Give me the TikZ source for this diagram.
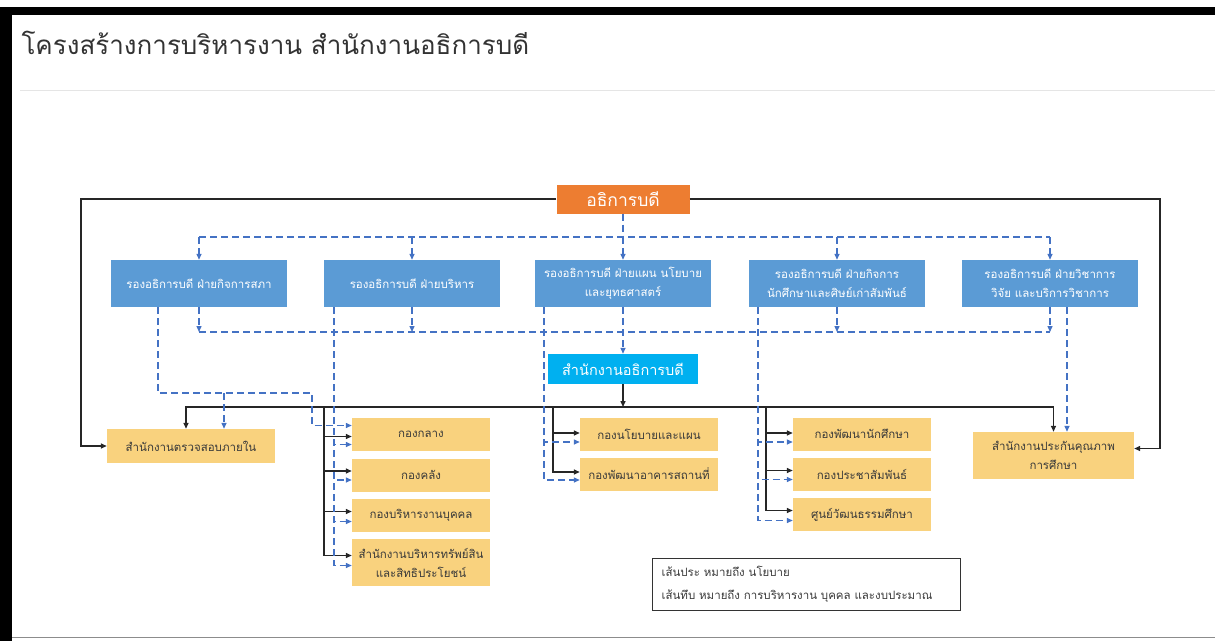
\documentclass[tikz,border=0pt]{standalone}
\usepackage{fontspec}
\setmainfont[Script=Thai]{Loma}
\usetikzlibrary{arrows.meta,positioning}
\definecolor{orgorange}{HTML}{ED7D31}
\definecolor{orgblue}{HTML}{5B9BD5}
\definecolor{orgcyan}{HTML}{00B0F0}
\definecolor{orgyellow}{HTML}{F9D27E}
\definecolor{orgdash}{HTML}{4472C4}
\definecolor{orgline}{HTML}{262626}
\definecolor{orgtext}{HTML}{3A3A3A}
\tikzset{
  >={Triangle[length=6pt,width=5pt]},
  topbox/.style={fill=orgorange,text=white,minimum width=133pt,minimum height=29pt,
                 inner sep=2pt,font=\fontsize{17.5}{20}\selectfont},
  vpbox/.style={fill=orgblue,text=white,minimum width=176pt,minimum height=47pt,
                inner sep=2pt,align=center,font=\fontsize{11.5}{19}\selectfont},
  officebox/.style={fill=orgcyan,text=white,minimum width=150pt,minimum height=30pt,
                    inner sep=2pt,font=\fontsize{14.5}{16}\selectfont},
  unitbox/.style={fill=orgyellow,text=orgtext,inner sep=2pt,align=center,
                  font=\fontsize{11.5}{19}\selectfont},
  colbox/.style={unitbox,minimum width=138pt,minimum height=33pt},
  blk/.style={draw=orgline,line width=1.4pt},
  dsh/.style={draw=orgdash,line width=1.3pt,dash pattern=on 7pt off 4pt},
}
\begin{document}
\begin{tikzpicture}[x=1pt,y=-1pt]
  \useasboundingbox (0,0) rectangle (1215,641);
  % page frame
  \fill[black] (0,7) rectangle (1215,15);
  \fill[black] (0,7) rectangle (12,641);
  \draw[black!10,line width=0.8pt] (20,90) -- (1215,90);
  \draw[black!45,line width=0.8pt] (12,637) -- (1215,637);
  \node[anchor=west,text=black!80,font=\fontsize{26}{30}\selectfont] (title) at (18,43)
    {โครงสร้างการบริหารงาน สำนักงานอธิการบดี};

  % boxes
  \node[topbox] (pres) at (623,199) {อธิการบดี};
  \node[vpbox] (vp1) at (199,283.5) {รองอธิการบดี ฝ่ายกิจการสภา};
  \node[vpbox] (vp2) at (412,283.5) {รองอธิการบดี ฝ่ายบริหาร};
  \node[vpbox] (vp3) at (623,283.5) {รองอธิการบดี ฝ่ายแผน นโยบาย\\และยุทธศาสตร์};
  \node[vpbox] (vp4) at (837,283.5) {รองอธิการบดี ฝ่ายกิจการ\\นักศึกษาและศิษย์เก่าสัมพันธ์};
  \node[vpbox] (vp5) at (1050,283.5) {รองอธิการบดี ฝ่ายวิชาการ\\วิจัย และบริการวิชาการ};
  \node[officebox] (office) at (623,369) {สำนักงานอธิการบดี};

  \node[unitbox,minimum width=168pt,minimum height=34pt] (audit) at (191,446) {สำนักงานตรวจสอบภายใน};
  \node[colbox] (a1) at (421,434.5) {กองกลาง};
  \node[colbox] (a2) at (421,475) {กองคลัง};
  \node[colbox] (a3) at (421,515.5) {กองบริหารงานบุคคล};
  \node[colbox,minimum height=47pt] (a4) at (421,562.5) {สำนักงานบริหารทรัพย์สิน\\และสิทธิประโยชน์};
  \node[colbox] (b1) at (649,434) {กองนโยบายและแผน};
  \node[colbox] (b2) at (649,474) {กองพัฒนาอาคารสถานที่};
  \node[colbox] (c1) at (862,434) {กองพัฒนานักศึกษา};
  \node[colbox] (c2) at (862,474.5) {กองประชาสัมพันธ์};
  \node[colbox] (c3) at (862,514.5) {ศูนย์วัฒนธรรมศึกษา};
  \node[unitbox,minimum width=161pt,minimum height=47pt] (qa) at (1053.5,455.5) {สำนักงานประกันคุณภาพ\\การศึกษา};

  \node[draw=black!80,line width=1.2pt,anchor=north west,text width=290pt,minimum height=52pt,
        inner xsep=9pt,align=left,text=orgtext,font=\fontsize{11.5}{23}\selectfont] (legend) at (652,558)
    {เส้นประ หมายถึง นโยบาย\\เส้นทึบ หมายถึง การบริหารงาน บุคคล และงบประมาณ};

  % junction points
  \coordinate (bus) at (623,407);
  \coordinate (farL) at (81,300);
  \coordinate (farR) at (1160,300);
  \coordinate (trA) at (324,407);
  \coordinate (trB) at (553,407);
  \coordinate (trC) at (766,407);
  \coordinate (dA) at (334,0);
  \coordinate (dB) at (544,0);
  \coordinate (dC) at (758,0);
  \coordinate (dQ) at (1067,0);
  \coordinate (pd) at (623,237);
  \coordinate (md) at (623,332);
  \coordinate (d1a) at (158,393);
  \coordinate (d1b) at (312,393);
  \coordinate (d1c) at (224,393);

  % solid lines: administration, staff, budget
  \draw[blk,->] (pres.west) -| (farL) |- (audit.west);
  \draw[blk,->] (pres.east) -| (farR) |- ([yshift=7pt]qa.east);
  \draw[blk,->] (office) -- (bus);
  \draw[blk,->] (bus) -| ([xshift=-5pt]audit.north);
  \draw[blk,->] (bus) -| (qa.north);
  \foreach \b/\s in {a1/-2,a2/4,a3/4,a4/7}
    \draw[blk,->] (trA) |- ([yshift=\s pt]\b.west);
  \foreach \b/\s in {b1/1,b2/2}
    \draw[blk,->] (trB) |- ([yshift=\s pt]\b.west);
  \foreach \b/\s in {c1/1,c2/4,c3/4}
    \draw[blk,->] (trC) |- ([yshift=\s pt]\b.west);

  % dashed lines: policy
  \draw[dsh] (pres) -- (pd);
  \draw[dsh] (vp1.north |- pd) -- (vp5.north |- pd);
  \foreach \i in {1,...,5}
    \draw[dsh,->] (vp\i.north |- pd) -- (vp\i.north);
  \draw[dsh] (vp1.south |- md) -- (vp5.south |- md);
  \foreach \i in {1,2,4,5}
    \draw[dsh,->] (vp\i.south) -- (vp\i.south |- md);
  \draw[dsh,->] (vp3) -- (office);

  \draw[dsh,->] (vp1.south -| d1a) -- (d1a) -- (d1b) |- ([yshift=9pt]a1.west);
  \draw[dsh,->] (d1c) -- (d1c |- audit.north);
  \foreach \b/\s in {a1/-10,a2/-5,a3/-6,a4/-3}
    \draw[dsh,->] (vp2.south -| dA) |- ([yshift=\s pt]\b.west);
  \foreach \b/\s in {b1/-8,b2/-6}
    \draw[dsh,->] (vp3.south -| dB) |- ([yshift=\s pt]\b.west);
  \foreach \b/\s in {c1/-8,c2/-5,c3/-6}
    \draw[dsh,->] (vp4.south -| dC) |- ([yshift=\s pt]\b.west);
  \draw[dsh,->] (vp5.south -| dQ) -- (qa.north -| dQ);
\end{tikzpicture}
\end{document}
